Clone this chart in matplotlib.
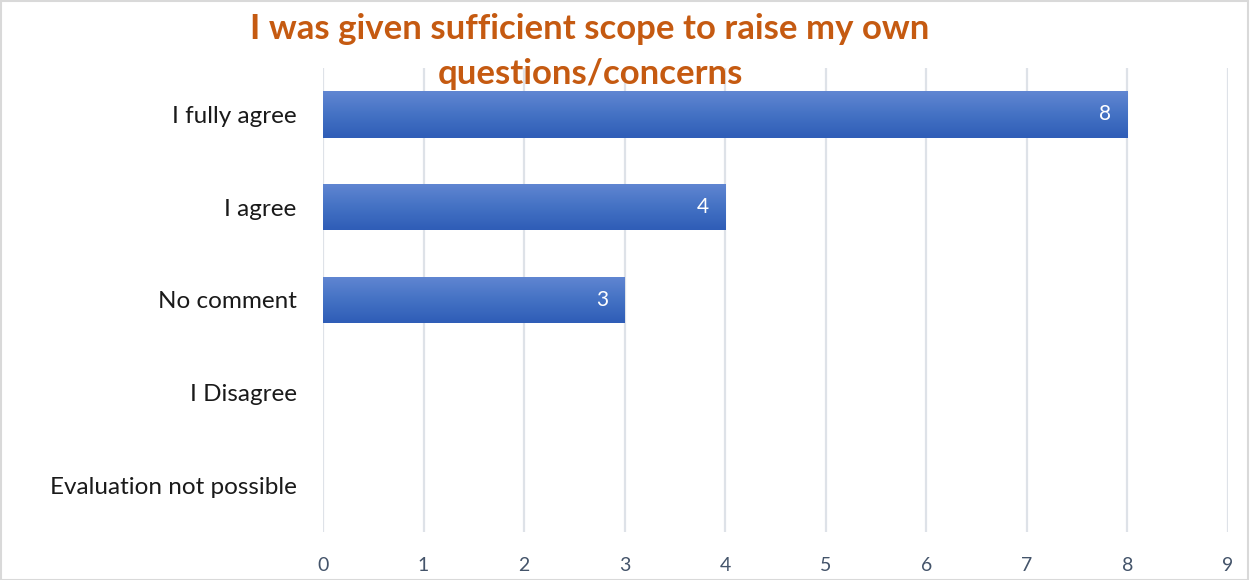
import numpy as np
import matplotlib.pyplot as plt
from matplotlib.patches import Rectangle
from matplotlib.colors import LinearSegmentedColormap

plt.rcParams['font.family'] = ['Lato', 'DejaVu Sans']

categories = ['I fully agree', 'I agree', 'No comment', 'I Disagree', 'Evaluation not possible']
counts = [8, 4, 3, 0, 0]
x_ticks = list(range(0, 10))
title = 'I was given sufficient scope to raise my own\nquestions/concerns'

fig = plt.figure(figsize=(12.5, 5.8), dpi=100)
ax = fig.add_axes([0.2584, 0.0828, 0.724, 0.80])

ypos = np.arange(len(categories))
bar_h = 0.5

# vertical gradient used to fill each bar
grad = np.linspace(0, 1, 64).reshape(-1, 1)
cmap = LinearSegmentedColormap.from_list('bar', ['#6186D2', '#4472C4', '#2F5DB7'])

for y, v in zip(ypos, counts):
    if v <= 0:
        continue
    rect = Rectangle((0, y - bar_h / 2), v, bar_h, facecolor='none', edgecolor='none')
    ax.add_patch(rect)
    im = ax.imshow(grad, cmap=cmap, aspect='auto',
                   extent=(0, v, y + bar_h / 2, y - bar_h / 2), zorder=3)
    im.set_clip_path(rect)
    ax.text(v - 0.16, y, str(v), ha='right', va='center', color='white',
            fontsize=15, zorder=4)

ax.set_xlim(0, 9)
ax.set_ylim(len(categories) - 0.5, -0.5)
ax.set_xticks(x_ticks)
ax.set_xticklabels([str(t) for t in x_ticks], fontsize=14, color='#44546A')
ax.set_yticks(ypos)
ax.set_yticklabels(categories, fontsize=17.5, color='#1a1a1a')
ax.tick_params(length=0)
ax.tick_params(axis='x', pad=18)
ax.tick_params(axis='y', pad=19)
ax.grid(axis='x', color='#DEE2E8', linewidth=1.6, zorder=0)
ax.set_axisbelow(True)
for s in ax.spines.values():
    s.set_visible(False)

fig.text(0.472, 0.978, title, ha='center', va='top', fontsize=25,
         fontweight='bold', color='#C55A11', linespacing=1.5)

fig.patches.append(Rectangle((0.001, 0.0), 0.997, 0.998, transform=fig.transFigure,
                             fill=False, edgecolor='#D9D9D9', linewidth=1.5))

fig.savefig('out.png', dpi=100)
